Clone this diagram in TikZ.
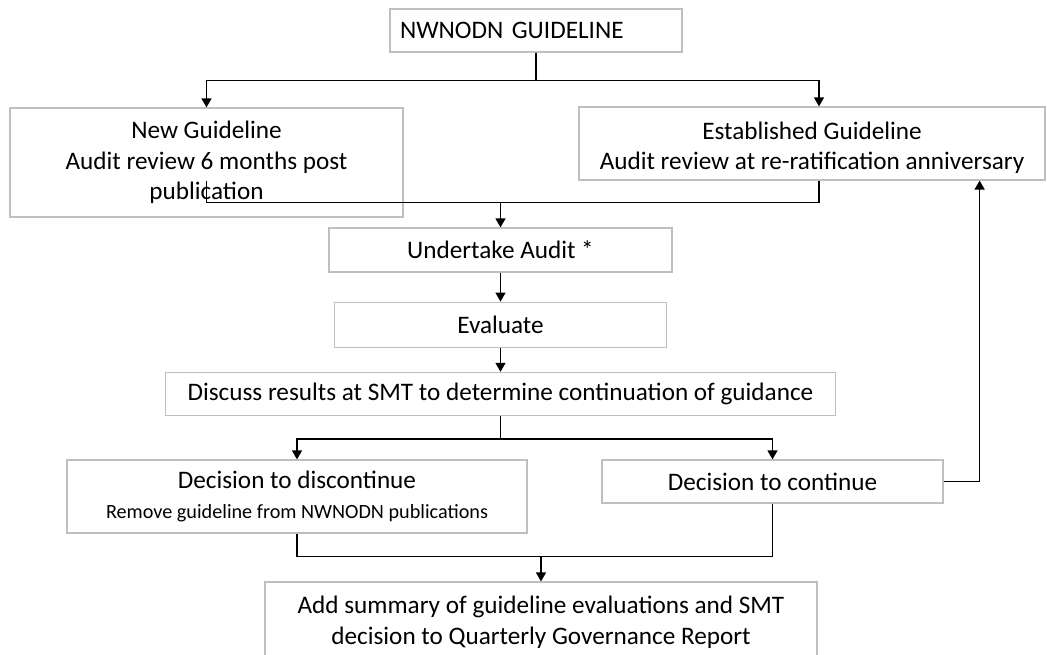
\documentclass[tikz,border=0pt]{standalone}
\usepackage{fontspec}
\setmainfont{Carlito}
\usetikzlibrary{positioning}
\usetikzlibrary{arrows.meta}

\begin{document}
\begin{tikzpicture}[
    x=1pt, y=1pt,
    node distance=24pt and 24pt,
    every node/.style={font=\fontsize{25.2}{30.5}\selectfont},
    box/.style={rectangle, draw=gray!50, line width=1.2pt, fill=white, align=center, inner sep=2pt},
    line/.style={-{Triangle[length=9pt, width=10pt]}, line width=1.4pt},
    link/.style={line width=1.4pt}
]

\useasboundingbox (0,0) rectangle (1047,-655);
\clip (0,0) rectangle (1047,-655);

% Guideline source
\node[box, text width=272pt, inner xsep=10pt, align=left, minimum height=43pt] (top) at (536,-30.5) {NWNODN GUIDELINE};

% Two kinds of guideline
\node[box, minimum width=393pt, minimum height=109pt] (newg) at (206.5,-162.5) {New Guideline\\Audit review 6 months post\\publication};
\node[box, minimum width=466pt, minimum height=73pt] (estg) at (812,-143.5) {\rule{0pt}{26pt}Established Guideline\\Audit review at re-ratification anniversary};

% Audit chain
\node[box, minimum width=343pt, minimum height=44pt] (audit) at (500.5,-250) {Undertake Audit *};
\node[box, minimum width=332pt, minimum height=45pt, below=29pt of audit] (eval) {Evaluate};
\node[box, minimum width=670pt, minimum height=43pt, below=24pt of eval] (discuss) {Discuss results at SMT to determine continuation of guidance};

% Decisions
\node[box, minimum width=460pt, minimum height=73pt] (disc) at (297,-496.5) {Decision to discontinue\\{\fontsize{20.2}{24}\selectfont Remove guideline from NWNODN\ publications}};
\node[box, minimum width=341pt, minimum height=43pt] (cont) at (772.5,-481.5) {Decision to continue};

% Report (runs past the lower edge)
\node[box, minimum width=552pt, minimum height=81pt] (report) at (541,-622.5) {Add summary of guideline evaluations and SMT\\decision to Quarterly Governance Report};

% Split from the guideline
\draw[link] (top.south) -- ++(0,-28) coordinate (split1);
\draw[line] (split1) -| (newg.north);
\draw[line] (split1) -| ([xshift=7pt]estg.north);

% Merge into the audit
\coordinate[above=25pt of audit.north] (merge1);
\draw[link] (newg.center |- estg.south) |- (merge1);
\draw[link] ([xshift=7pt]estg.south) |- (merge1);
\draw[line] (merge1) -- (audit.north);

% Audit chain
\draw[line] (audit) -- (eval);
\draw[line] (eval) -- (discuss);

% Split into the decisions
\draw[link] (discuss.south) -- ++(0,-23) coordinate (split2);
\draw[line] (split2) -| (disc.north);
\draw[line] (split2) -| (cont.north);

% Back to the established guideline
\draw[line] (cont.east) -- ++(36,0) coordinate (loop) -- (loop |- estg.south);

% Merge into the report
\coordinate[above=25pt of report.north] (merge2);
\draw[link] (disc.south) |- (merge2);
\draw[link] (cont.south) |- (merge2);
\draw[line] (merge2) -- (report.north);

\end{tikzpicture}
\end{document}
